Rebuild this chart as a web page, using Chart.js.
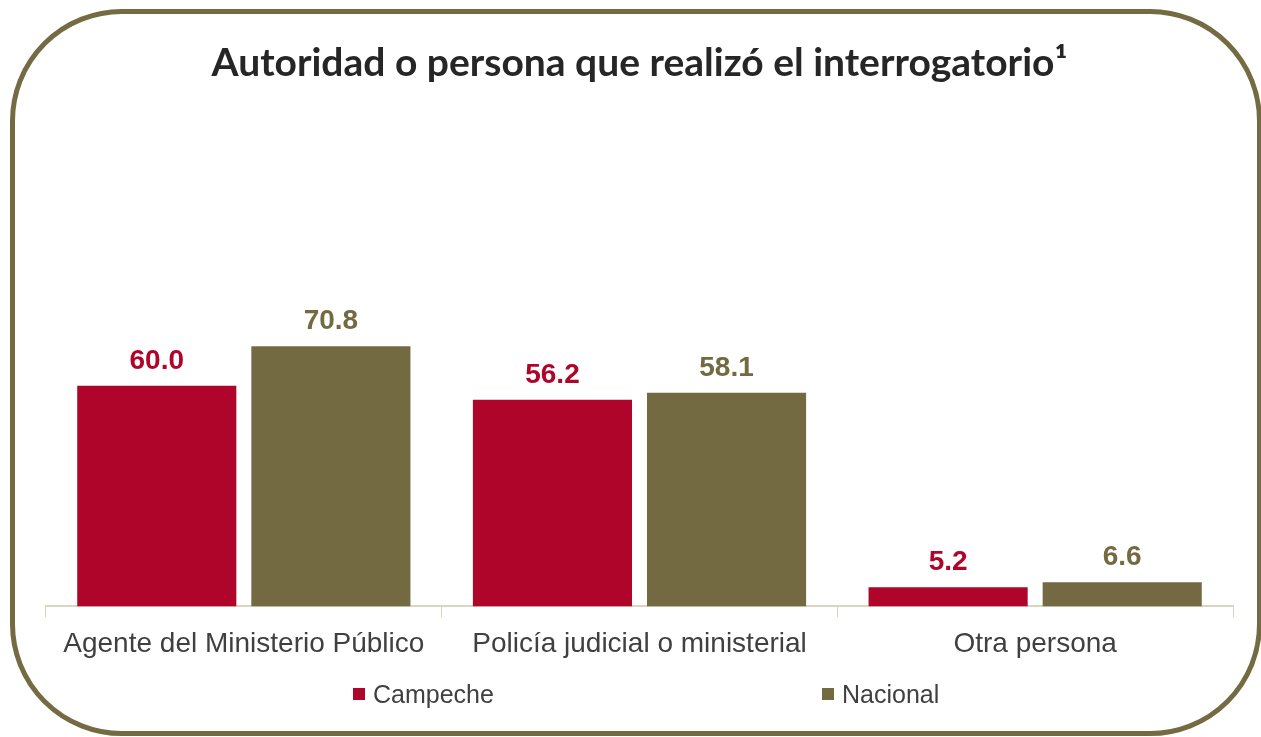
<!DOCTYPE html>
<html>
<head>
<meta charset="utf-8">
<script src="https://cdn.jsdelivr.net/npm/chart.js@4"></script>
<style>
html, body { margin: 0; padding: 0; background: #fff; }
body { width: 1261px; height: 737px; position: relative; overflow: hidden; }
.frame {
  position: absolute; left: 10px; top: 9px; width: 1242px; height: 717px;
  border: 5px solid #756B42; border-radius: 112px;
}
.chart-container { position: absolute; left: 0; top: 0; width: 1261px; height: 737px; }
.legend-item {
  position: absolute; top: 682px; height: 25px; line-height: 25px;
  font-family: "Liberation Sans", Arial, sans-serif; font-size: 25px; color: #404040;
  white-space: nowrap;
}
.legend-item span.box {
  position: absolute; left: 0; top: 6px; width: 12px; height: 12px;
}
.legend-item span.txt { margin-left: 20px; }
</style>
</head>
<body>
<div class="frame"></div>
<div class="chart-container"><canvas id="interrogatorioChart"></canvas></div>
<div id="legend"></div>
<script>
const categories = ['Agente del Ministerio Público', 'Policía judicial o ministerial', 'Otra persona'];
const seriesNames = ['Campeche', 'Nacional'];
const campeche = [60.0, 56.2, 5.2];
const nacional = [70.8, 58.1, 6.6];

const RED = '#B0052B';
const OLIVE = '#736A42';
const seriesColors = [RED, OLIVE];

// labels over each bar (no datalabels plugin available offline)
const valueLabels = {
  id: 'valueLabels',
  afterDatasetsDraw(chart) {
    const ctx = chart.ctx;
    ctx.save();
    ctx.font = 'bold 28px "Liberation Sans", Arial, sans-serif';
    ctx.textAlign = 'center';
    ctx.textBaseline = 'alphabetic';
    chart.data.datasets.forEach((ds, i) => {
      const meta = chart.getDatasetMeta(i);
      ctx.fillStyle = ds.backgroundColor;
      meta.data.forEach((bar, j) => {
        ctx.fillText(ds.data[j].toFixed(1), bar.x, bar.y - 17);
      });
    });
    ctx.restore();
  }
};

// legend with wide spacing, built as html
const legendLeft = [353, 822];
const legendEl = document.getElementById('legend');
seriesNames.forEach((name, i) => {
  const item = document.createElement('div');
  item.className = 'legend-item';
  item.style.left = legendLeft[i] + 'px';
  item.innerHTML = '<span class="box" style="background:' + seriesColors[i] + '"></span><span class="txt">' + name + '</span>';
  legendEl.appendChild(item);
});

const ctx = document.getElementById('interrogatorioChart').getContext('2d');

new Chart(ctx, {
  type: 'bar',
  data: {
    labels: categories,
    datasets: [
      { label: seriesNames[0], data: campeche, backgroundColor: RED, borderWidth: 0 },
      { label: seriesNames[1], data: nacional, backgroundColor: OLIVE, borderWidth: 0 }
    ]
  },
  options: {
    responsive: true,
    maintainAspectRatio: false,
    animation: false,
    categoryPercentage: 0.88,
    barPercentage: 0.914,
    layout: { padding: { left: 46, right: 28, top: 0, bottom: 66 } },
    plugins: {
      title: {
        display: true,
        text: 'Autoridad o persona que realizó el interrogatorio¹',
        color: '#262626',
        font: { family: 'Lato, "Open Sans", sans-serif', size: 39, weight: 'bold' },
        padding: { top: 40, bottom: 152 }
      },
      legend: { display: false },
      tooltip: { enabled: false }
    },
    scales: {
      x: {
        grid: {
          offset: true,
          drawOnChartArea: false,
          drawTicks: true,
          tickLength: 11,
          color: '#D9D5BE'
        },
        border: { color: '#D9D5BE', width: 2 },
        ticks: {
          color: '#404040',
          padding: 10,
          font: { family: '"Liberation Sans", Arial, sans-serif', size: 28 }
        }
      },
      y: {
        display: false,
        min: 0,
        max: 100
      }
    }
  },
  plugins: [valueLabels]
});
</script>
</body>
</html>
